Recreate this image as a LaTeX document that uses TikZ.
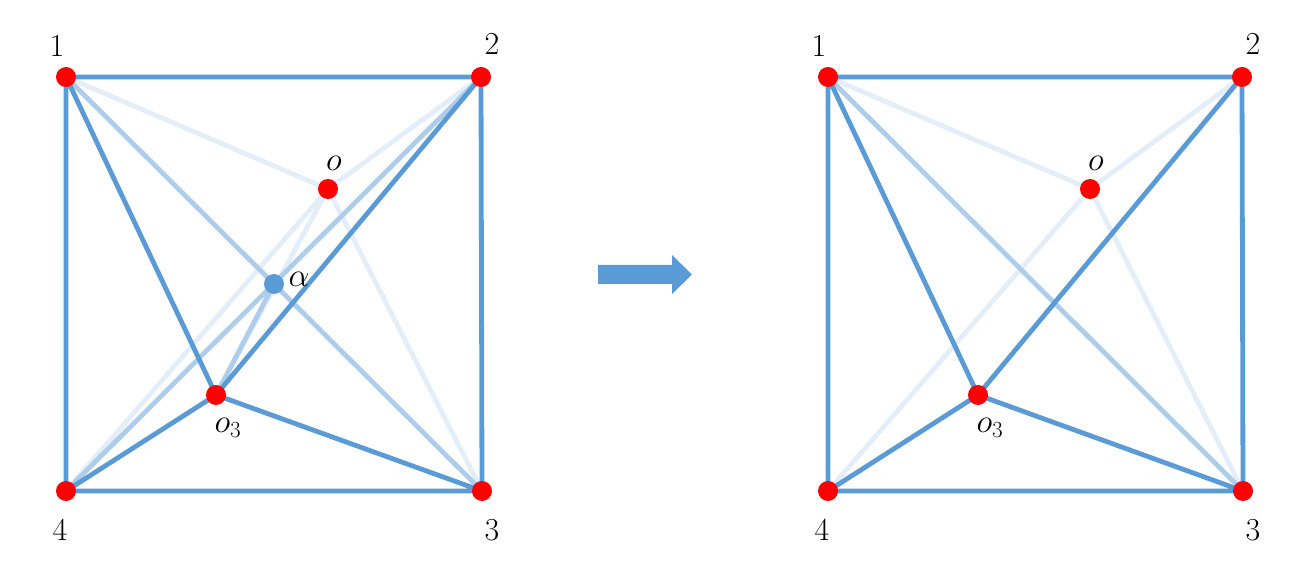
\documentclass[tikz,border=0pt]{standalone}
\definecolor{bl}{HTML}{5B9BD5}
\begin{document}
\begin{tikzpicture}[x=0.75pt,y=-0.75pt,
  solid/.style={draw=bl,line width=3.6pt},
  med/.style={draw=bl!50,line width=3.6pt},
  lite/.style={draw=bl!17,line width=3.6pt},
  dot/.style={circle,fill=red,inner sep=0pt,minimum size=15pt},
  lab/.style={font=\fontsize{24}{28}\selectfont}]
\useasboundingbox (0,0) rectangle (1304,573);
% left
\coordinate (A1) at (66,77); \coordinate (A2) at (481,77);
\coordinate (A3) at (482,491); \coordinate (A4) at (66,491);
\coordinate (Ao) at (328,189); \coordinate (Aa) at (274,284); \coordinate (Ac) at (216,395);
\draw[lite] (A1)--(Ao) (Ao)--(A2) (Ao)--(A3) (A4)--(Ao) (Ao)--(Ac);
\draw[med] (A1)--(A3) (A4)--(A2) (Aa)--(Ac);
\draw[solid] (A1)--(A2)--(A3)--(A4)--cycle (A1)--(Ac)--(A2) (A4)--(Ac)--(A3);
\node[circle,fill=bl,inner sep=0pt,minimum size=15pt] (Na) at (Aa) {};
\foreach \p in {A1,A2,A3,A4,Ao,Ac} \node[dot] (N\p) at (\p) {};
\node[lab] (l1) at (57,46) {1}; \node[lab] (l2) at (492,44) {2};
\node[lab] (l3) at (492,530) {3}; \node[lab] (l4) at (60,530) {4};
\node[lab] (lo) at (334,163) {$o$}; \node[lab,anchor=west] (la) at (284,279) {$\alpha$};
\node[lab] (lc) at (228,428) {$o_3$};
% arrow
\fill[bl] (598,265) -- (672,265) -- (672,255) -- (692,274.5) -- (672,294) -- (672,284) -- (598,284) -- cycle;
% right
\coordinate (B1) at (828,77); \coordinate (B2) at (1242,77);
\coordinate (B3) at (1243,491); \coordinate (B4) at (828,491);
\coordinate (Bo) at (1090,189); \coordinate (Bc) at (978,395);
\draw[lite] (B1)--(Bo) (Bo)--(B2) (Bo)--(B3) (B4)--(Bo);
\draw[med] (B1)--(B3);
\draw[solid] (B1)--(B2)--(B3)--(B4)--cycle (B1)--(Bc)--(B2) (B4)--(Bc)--(B3);
\foreach \p in {B1,B2,B3,B4,Bo,Bc} \node[dot] (N\p) at (\p) {};
\node[lab] (m1) at (819,46) {1}; \node[lab] (m2) at (1253,44) {2};
\node[lab] (m3) at (1253,530) {3}; \node[lab] (m4) at (822,530) {4};
\node[lab] (mo) at (1096,163) {$o$};
\node[lab] (mc) at (990,428) {$o_3$};
\end{tikzpicture}
\end{document}
